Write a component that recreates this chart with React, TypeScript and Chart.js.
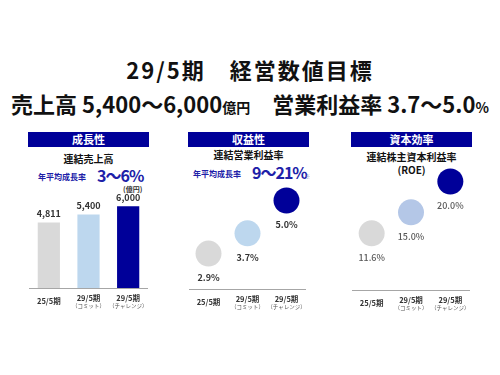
import React, { useEffect, useRef } from "react";
import { Chart, registerables } from "chart.js";

Chart.register(...registerables);

const FONT = "'Noto Sans CJK JP', 'Noto Sans', sans-serif";

// ---- data ----
const categories = [["25/5期"], ["29/5期", "（コミット）"], ["29/5期", "（チャレンジ）"]];
const salesValues = [4811, 5400, 6000];
const salesLabels = ["4,811", "5,400", "6,000"];
const opMarginValues = [2.9, 3.7, 5.0];
const opMarginLabels = ["2.9%", "3.7%", "5.0%"];
const roeValues = [11.6, 15.0, 20.0];
const roeLabels = ["11.6%", "15.0%", "20.0%"];

const salesColors = ["#D9D9D9", "#BDD7EE", "#000099"];
const opColors = ["#D9D9D9", "#BDD7EE", "#000099"];
const roeColors = ["#D9D9D9", "#B4C7E7", "#000099"];

const NAVY = "#000099";
const BLUE_TEXT = "#2020A8";

const xLabelPlugin = {
  id: "xLabelPlugin",
  afterDraw(chart: any) {
    const { ctx, chartArea, scales } = chart;
    const xs = scales.x;
    const base = chartArea.bottom;
    ctx.save();
    ctx.textAlign = "center";
    ctx.textBaseline = "middle";
    (chart.data.labels as any[]).forEach((lab, i) => {
      const px = xs.getPixelForValue(i);
      const lines = Array.isArray(lab) ? lab : [lab];
      ctx.fillStyle = "#333";
      ctx.font = `bold 7.5px ${FONT}`;
      if (lines.length === 1) {
        ctx.fillText(lines[0], px, base + 13);
      } else {
        ctx.fillText(lines[0], px, base + 10);
        ctx.font = `5.5px ${FONT}`;
        ctx.fillStyle = "#555";
        ctx.fillText(lines[1], px, base + 18);
      }
    });
    ctx.restore();
  },
};

const valueLabelPlugin = {
  id: "valueLabels",
  afterDatasetsDraw(chart: any, _args: any, opts: any) {
    if (!opts || !opts.labels) return;
    const { ctx } = chart;
    const meta = chart.getDatasetMeta(0);
    ctx.save();
    ctx.textAlign = "center";
    ctx.textBaseline = "middle";
    ctx.font = opts.font;
    ctx.fillStyle = opts.color;
    meta.data.forEach((el: any, i: number) => {
      ctx.fillText(opts.labels[i], el.x, el.y + opts.dy);
    });
    ctx.restore();
  },
};

function baseOptions(min: number, max: number, padBottom: number, labels: string[], dy: number, font: string, color: string) {
  return {
    responsive: false,
    animation: false,
    devicePixelRatio: 1,
    layout: { autoPadding: false, padding: { top: 10, bottom: padBottom, left: 0, right: 0 } },
    scales: {
      x: {
        offset: true,
        grid: { display: false },
        ticks: { display: false },
        border: { display: true, color: "#A6A6A6", width: 1 },
      },
      y: { display: false, min, max },
    },
    plugins: {
      legend: { display: false },
      tooltip: { enabled: false },
      valueLabels: { labels, dy, font, color },
    },
  } as any;
}

function ChartCanvas({ config, left, top, width, height }: any) {
  const ref = useRef<HTMLCanvasElement | null>(null);
  useEffect(() => {
    if (!ref.current) return;
    const chart = new Chart(ref.current, config);
    return () => chart.destroy();
  }, []);
  return (
    <canvas
      ref={ref}
      width={width}
      height={height}
      style={{ position: "absolute", left, top, width, height }}
    />
  );
}

const salesConfig = {
  type: "bar",
  data: {
    labels: categories,
    datasets: [
      {
        data: salesValues,
        backgroundColor: salesColors,
        barPercentage: 0.56,
        categoryPercentage: 1,
      },
    ],
  },
  options: baseOptions(0, 9400, 29, salesLabels, -9, `bold 9px ${FONT}`, "#333"),
  plugins: [xLabelPlugin, valueLabelPlugin],
};

const opConfig = {
  type: "line",
  data: {
    labels: categories,
    datasets: [
      {
        data: opMarginValues,
        showLine: false,
        pointRadius: 13,
        pointBorderWidth: 0,
        pointBackgroundColor: opColors,
        pointBorderColor: opColors,
        clip: false,
      },
    ],
  },
  options: baseOptions(1.5, 6.6, 28, opMarginLabels, 24, `bold 9px ${FONT}`, "#333"),
  plugins: [xLabelPlugin, valueLabelPlugin],
};

const roeConfig = {
  type: "line",
  data: {
    labels: categories,
    datasets: [
      {
        data: roeValues,
        showLine: false,
        pointRadius: 13,
        pointBorderWidth: 0,
        pointBackgroundColor: roeColors,
        pointBorderColor: roeColors,
        clip: false,
      },
    ],
  },
  options: baseOptions(2.4, 23.5, 27, roeLabels, 24, `500 9px ${FONT}`, "#595959"),
  plugins: [xLabelPlugin, valueLabelPlugin],
};

const abs = (s: any) => ({ position: "absolute", ...s } as React.CSSProperties);

export default function App() {
  const headers = [
    { left: 28, text: "成長性" },
    { left: 188, text: "収益性" },
    { left: 351, text: "資本効率" },
  ];
  return (
    <div
      style={{
        position: "absolute",
        left: 0,
        top: 0,
        width: 500,
        height: 375,
        background: "#fff",
        overflow: "hidden",
        fontFamily: FONT,
        color: "#111",
      }}
    >
      <div style={abs({ left: 0, top: 58, width: 500, textAlign: "center", fontSize: 22, lineHeight: "22px", fontWeight: 700, letterSpacing: "2px", whiteSpace: "pre" })}>
        29/5期　経営数値目標
      </div>
      <div style={abs({ left: 0, top: 92, width: 500, textAlign: "center", fontSize: 22, lineHeight: "22px", fontWeight: 700, whiteSpace: "pre" })}>
        <span>売上高 5,400〜6,000</span>
        <span style={{ fontSize: 14 }}>億円</span>
        <span>　営業利益率 3.7〜5.0</span>
        <span style={{ fontSize: 14 }}>%</span>
      </div>

      {headers.map((h) => (
        <div
          key={h.text}
          style={abs({
            left: h.left,
            top: 132,
            width: 121,
            height: 15,
            background: NAVY,
            color: "#fff",
            fontSize: 11,
            lineHeight: "15px",
            fontWeight: 700,
            textAlign: "center",
          })}
        >
          {h.text}
        </div>
      ))}

      <div style={abs({ left: 28, top: 154, width: 121, textAlign: "center", fontSize: 10, lineHeight: "10px", fontWeight: 700 })}>
        連結売上高
      </div>
      <div style={abs({ left: 188, top: 150, width: 121, textAlign: "center", fontSize: 10, lineHeight: "10px", fontWeight: 700 })}>
        連結営業利益率
      </div>
      <div style={abs({ left: 351, top: 152, width: 121, textAlign: "center", fontSize: 10, lineHeight: "10px", fontWeight: 700 })}>
        連結株主資本利益率
      </div>
      <div style={abs({ left: 351, top: 165, width: 121, textAlign: "center", fontSize: 10, lineHeight: "10px", fontWeight: 700 })}>
        (ROE)
      </div>

      <div style={abs({ left: 38, top: 173, fontSize: 8, lineHeight: "8px", fontWeight: 700, color: BLUE_TEXT, whiteSpace: "pre" })}>
        年平均成長率
      </div>
      <div style={abs({ left: 97, top: 167, fontSize: 16, lineHeight: "16px", fontWeight: 700, letterSpacing: "-1px", color: BLUE_TEXT, whiteSpace: "pre" })}>
        3〜6%
      </div>
      <div style={abs({ left: 123, top: 186, fontSize: 7, lineHeight: "7px", fontWeight: 700, color: "#333", whiteSpace: "pre" })}>
        (億円)
      </div>

      <div style={abs({ left: 193, top: 170, fontSize: 8, lineHeight: "8px", fontWeight: 700, color: BLUE_TEXT, whiteSpace: "pre" })}>
        年平均成長率
      </div>
      <div style={abs({ left: 252, top: 164, fontSize: 16, lineHeight: "16px", fontWeight: 700, letterSpacing: "-1px", color: BLUE_TEXT, whiteSpace: "pre" })}>
        9〜21%
      </div>
      <div style={abs({ left: 305, top: 173, fontSize: 5, lineHeight: "5px", color: "#8080c0", whiteSpace: "pre" })}>
        ※
      </div>

      <ChartCanvas config={salesConfig} left={29} top={150} width={119} height={175} />
      <ChartCanvas config={opConfig} left={189} top={150} width={117} height={175} />
      <ChartCanvas config={roeConfig} left={352} top={150} width={118} height={175} />
    </div>
  );
}
